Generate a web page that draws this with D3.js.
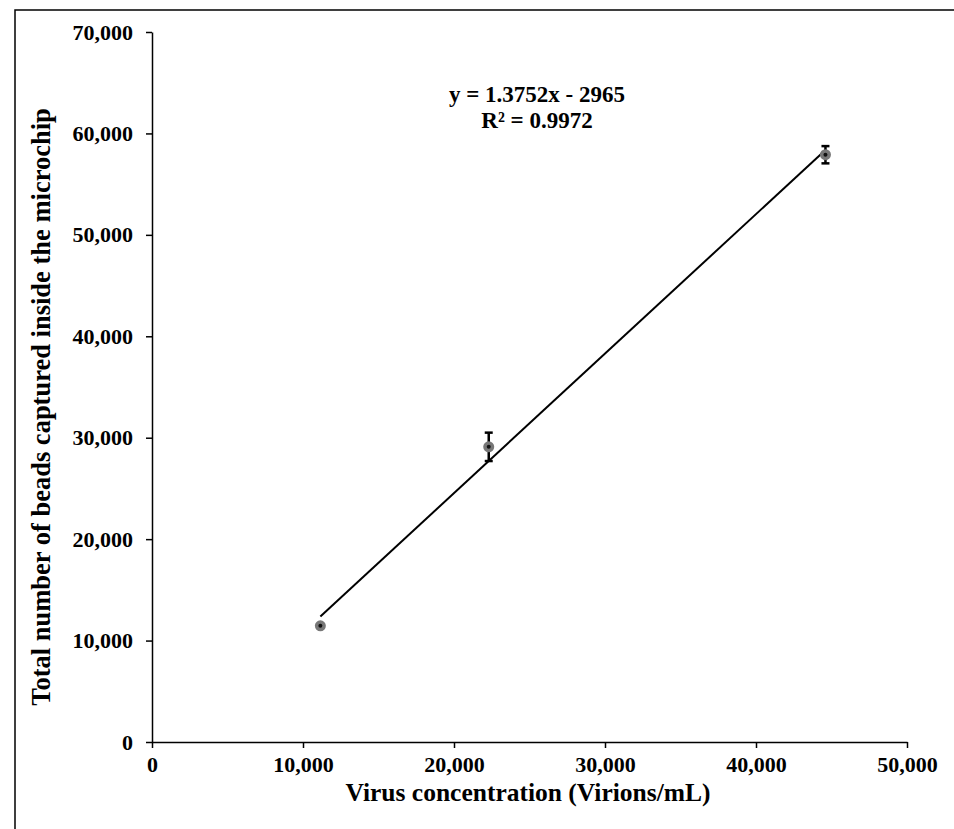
<!DOCTYPE html>
<html>
<head>
<meta charset="utf-8">
<script src="https://cdn.jsdelivr.net/npm/d3@7"></script>
<style>
  body { margin: 0; background: #fff; }
  text { font-family: "Liberation Serif", "Times New Roman", serif; font-weight: bold; fill: #000; }
</style>
</head>
<body>
<div id="chart"></div>
<script>
// data
var virusConc = [11150, 22300, 44600];
var beadsMean = [11450, 29100, 57900];
var beadsErr = [150, 1400, 850];
var xTicks = [0, 10000, 20000, 30000, 40000, 50000];
var yTicks = [0, 10000, 20000, 30000, 40000, 50000, 60000, 70000];
var slope = 1.3752, intercept = -2965;
var eqLines = ["y = 1.3752x - 2965", "R\u00b2 = 0.9972"];

var W = 954, H = 829;
var margin = {top: 32, right: 47, bottom: 87, left: 152},
    width = W - margin.left - margin.right,
    height = H - margin.top - margin.bottom;

var svg = d3.select("#chart").append("svg")
  .attr("width", W)
  .attr("height", H);

// outer frame, runs off the right and bottom edge
svg.append("rect")
  .attr("x", 15).attr("y", 10)
  .attr("width", W).attr("height", H)
  .attr("fill", "none")
  .attr("stroke", "#000")
  .attr("stroke-width", 1.5);

var g = svg.append("g")
  .attr("transform", "translate(" + margin.left + "," + margin.top + ")");

var x = d3.scaleLinear().domain([0, 50000]).range([0, width]);
var y = d3.scaleLinear().domain([0, 70000]).range([height, 0]);
var fmt = d3.format(",");

var xAxis = g.append("g")
  .attr("transform", "translate(0," + height + ")")
  .call(d3.axisBottom(x).tickValues(xTicks).tickFormat(fmt).tickSize(6).tickSizeOuter(0).tickPadding(8));
xAxis.selectAll("text").style("font-size", "22px");

var yAxis = g.append("g")
  .call(d3.axisLeft(y).tickValues(yTicks).tickFormat(fmt).tickSize(6).tickSizeOuter(0).tickPadding(13));
yAxis.selectAll("text").style("font-size", "22px");

g.selectAll(".domain, .tick line")
  .attr("stroke", "#000")
  .attr("stroke-width", 1.5);

// trend line across the data range
var x0 = d3.min(virusConc), x1 = d3.max(virusConc);
g.append("line")
  .attr("x1", x(x0)).attr("y1", y(slope * x0 + intercept))
  .attr("x2", x(x1)).attr("y2", y(slope * x1 + intercept))
  .attr("stroke", "#000")
  .attr("stroke-width", 2);

// error bars
var pts = virusConc.map(function(d, i) {
  return {x: d, y: beadsMean[i], e: beadsErr[i]};
});
var eb = g.selectAll(".err").data(pts).enter().append("g").attr("class", "err");
eb.append("line")
  .attr("x1", d => x(d.x)).attr("x2", d => x(d.x))
  .attr("y1", d => y(d.y + d.e)).attr("y2", d => y(d.y - d.e))
  .attr("stroke", "#000").attr("stroke-width", 2.5);
eb.selectAll(".cap").data(d => [[d.x, d.y + d.e], [d.x, d.y - d.e]])
  .enter().append("line")
  .attr("x1", d => x(d[0]) - 4).attr("x2", d => x(d[0]) + 4)
  .attr("y1", d => y(d[1])).attr("y2", d => y(d[1]))
  .attr("stroke", "#000").attr("stroke-width", 2.5);

// markers
g.selectAll(".pt").data(pts).enter().append("circle")
  .attr("cx", d => x(d.x)).attr("cy", d => y(d.y))
  .attr("r", 5.5)
  .attr("fill", "#777");
g.selectAll(".ptc").data(pts).enter().append("circle")
  .attr("cx", d => x(d.x)).attr("cy", d => y(d.y))
  .attr("r", 2)
  .attr("fill", "#111");

// equation
g.selectAll(".eq").data(eqLines).enter().append("text")
  .attr("x", 385)
  .attr("y", (d, i) => 70 + i * 26)
  .attr("text-anchor", "middle")
  .style("font-size", "23px")
  .text(d => d);

// axis titles
svg.append("text")
  .attr("x", 528)
  .attr("y", 801)
  .attr("text-anchor", "middle")
  .style("font-size", "25.5px")
  .text("Virus concentration (Virions/mL)");

svg.append("text")
  .attr("transform", "translate(50,407) rotate(-90)")
  .attr("text-anchor", "middle")
  .style("font-size", "26.5px")
  .text("Total number of beads captured inside the microchip");
</script>
</body>
</html>
